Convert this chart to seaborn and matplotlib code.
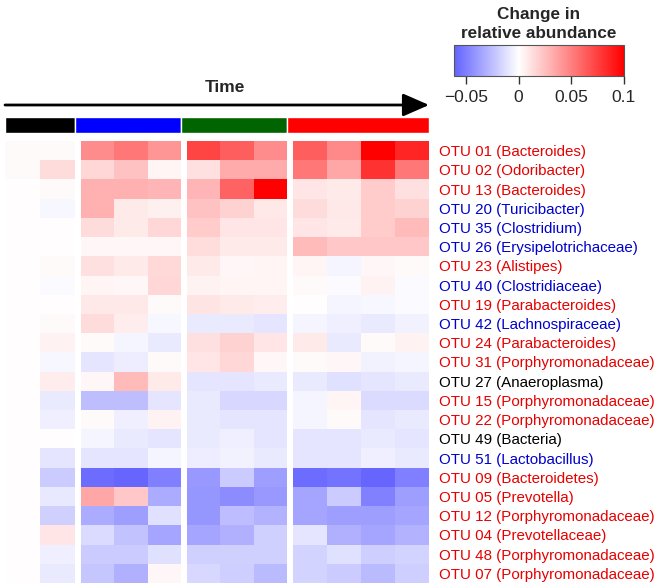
import matplotlib
import matplotlib.pyplot as plt
import numpy as np
import pandas as pd
import seaborn as sns
from matplotlib.colors import LinearSegmentedColormap, Normalize
from matplotlib.cm import ScalarMappable

matplotlib.use("Agg")

# ---- data -------------------------------------------------------------
otu_labels = [
    "OTU 01 (Bacteroides)", "OTU 02 (Odoribacter)", "OTU 13 (Bacteroides)",
    "OTU 20 (Turicibacter)", "OTU 35 (Clostridium)", "OTU 26 (Erysipelotrichaceae)",
    "OTU 23 (Alistipes)", "OTU 40 (Clostridiaceae)", "OTU 19 (Parabacteroides)",
    "OTU 42 (Lachnospiraceae)", "OTU 24 (Parabacteroides)", "OTU 31 (Porphyromonadaceae)",
    "OTU 27 (Anaeroplasma)", "OTU 15 (Porphyromonadaceae)", "OTU 22 (Porphyromonadaceae)",
    "OTU 49 (Bacteria)", "OTU 51 (Lactobacillus)", "OTU 09 (Bacteroidetes)",
    "OTU 05 (Prevotella)", "OTU 12 (Porphyromonadaceae)", "OTU 04 (Prevotellaceae)",
    "OTU 48 (Porphyromonadaceae)", "OTU 07 (Porphyromonadaceae)",
]
label_colors = [
    "red", "red", "red", "blue", "blue", "blue", "red", "blue", "red", "blue",
    "red", "red", "black", "red", "red", "black", "blue", "red", "red", "red",
    "red", "red", "red",
]

group_names = ["baseline", "period 1", "period 2", "period 3"]
group_colors = ["#000000", "#0000ff", "#006400", "#ff0000"]

# black group (2 samples)
baseline = [
    [0.002, 0.002], [0.002, 0.014], [0.001, 0.002], [0.001, -0.003],
    [0.001, 0.001], [0.001, 0.001], [0.001, 0.002], [0.001, -0.002],
    [0.001, 0.001], [0.001, 0.002], [0.001, 0.005], [0.001, -0.003],
    [0.001, 0.007], [0.001, -0.008], [0.001, -0.006], [0.001, 0.001],
    [0.001, -0.010], [0.001, -0.020], [0.001, -0.009], [0.001, -0.018],
    [0.001, 0.010], [0.001, -0.006], [0.001, -0.008],
]
# blue group (3 samples)
period1 = [
    [0.045, 0.053, 0.041], [0.016, 0.024, 0.004], [0.031, 0.031, 0.029],
    [0.031, 0.008, 0.006], [0.014, 0.008, 0.016], [0.003, 0.003, 0.003],
    [0.012, 0.008, 0.015], [0.004, 0.003, 0.016], [0.009, 0.009, 0.002],
    [0.014, 0.007, -0.003], [0.002, -0.004, -0.008], [-0.010, -0.007, 0.002],
    [0.003, 0.027, 0.008], [-0.025, -0.025, -0.010], [0.002, -0.006, 0.005],
    [-0.004, -0.008, -0.010], [-0.010, -0.010, -0.004], [-0.057, -0.060, -0.050],
    [0.035, 0.022, -0.033], [-0.033, -0.038, -0.012], [-0.014, -0.024, -0.035],
    [-0.020, -0.020, -0.012], [-0.022, -0.031, 0.003],
]
# green group (3 samples)
period2 = [
    [0.073, 0.063, 0.045], [0.012, 0.033, 0.033], [0.029, 0.061, 0.100],
    [0.024, 0.018, 0.009], [0.020, 0.010, 0.010], [0.013, 0.008, 0.008],
    [0.008, 0.003, 0.004], [0.005, 0.004, 0.004], [0.011, 0.008, 0.007],
    [-0.008, -0.008, -0.010], [0.012, 0.018, 0.010], [0.010, 0.016, 0.003],
    [-0.010, -0.010, -0.008], [-0.008, -0.016, -0.016], [-0.008, -0.010, -0.010],
    [-0.008, -0.006, -0.010], [-0.007, -0.005, -0.008], [-0.040, -0.020, -0.038],
    [-0.041, -0.045, -0.040], [-0.041, -0.026, -0.030], [-0.035, -0.031, -0.018],
    [-0.018, -0.018, -0.018], [-0.016, -0.019, -0.027],
]
# red group (4 samples)
period3 = [
    [0.063, 0.047, 0.100, 0.085], [0.053, 0.035, 0.080, 0.053],
    [0.010, 0.008, 0.020, 0.012], [0.014, 0.009, 0.020, 0.018],
    [0.010, 0.008, 0.020, 0.027], [0.027, 0.022, 0.022, 0.022],
    [0.004, -0.004, 0.003, 0.002], [0.002, -0.002, 0.005, -0.002],
    [0.001, -0.004, -0.003, -0.002], [-0.004, -0.006, -0.008, -0.005],
    [0.008, -0.008, 0.002, 0.005], [0.002, 0.003, -0.005, -0.004],
    [-0.008, -0.012, -0.010, -0.008], [-0.004, 0.004, -0.014, -0.014],
    [-0.004, 0.002, -0.010, -0.008], [-0.010, -0.010, -0.008, -0.010],
    [-0.010, -0.010, -0.006, -0.008], [-0.057, -0.055, -0.060, -0.050],
    [-0.035, -0.020, -0.049, -0.038], [-0.035, -0.038, -0.038, -0.035],
    [-0.010, -0.031, -0.035, -0.030], [-0.017, -0.012, -0.019, -0.017],
    [-0.017, -0.020, -0.027, -0.019],
]

colorbar_ticks = [-0.05, 0, 0.05, 0.1]
colorbar_ticklabels = ["\u22120.05", "0", "0.05", "0.1"]

# ---- layout (pixels) --------------------------------------------------
W, H = 660, 586
VMIN, VMAX = -0.0614, 0.1
HEAT_TOP, HEAT_BOTTOM = 141, 583
GROUP_X = [(5, 75), (81, 181), (187, 287), (293, 429)]


def fig_rect(x0, y0, x1, y1):
    return [x0 / W, 1 - y1 / H, (x1 - x0) / W, (y1 - y0) / H]


sns.set_theme(style="white")
plt.rcParams["font.family"] = ["Liberation Sans", "DejaVu Sans"]

white_pos = -VMIN / (VMAX - VMIN)
blue_end = 1 + VMIN / 0.1
cmap = LinearSegmentedColormap.from_list(
    "change",
    [(0, (blue_end, blue_end, 1.0)), (white_pos, (1, 1, 1)), (1, (1, 0, 0))],
)
norm = Normalize(vmin=VMIN, vmax=VMAX)

fig = plt.figure(figsize=(W / 100, H / 100), dpi=100)

groups = [baseline, period1, period2, period3]
for i, (vals, (x0, x1)) in enumerate(zip(groups, GROUP_X)):
    ax = fig.add_axes(fig_rect(x0, HEAT_TOP, x1, HEAT_BOTTOM))
    df = pd.DataFrame(np.array(vals), index=otu_labels)
    sns.heatmap(df, ax=ax, cmap=cmap, vmin=VMIN, vmax=VMAX, cbar=False,
                xticklabels=False, yticklabels=(i == len(groups) - 1))
    if i == len(groups) - 1:
        ax.yaxis.tick_right()
        ax.tick_params(axis="y", length=0, pad=7, labelsize=10.9, labelrotation=0)
        for lbl, col in zip(ax.get_yticklabels(), label_colors):
            lbl.set_color({"red": "#e60000", "blue": "#0000cc", "black": "black"}[col])
    ax.set_xlabel("")
    ax.set_ylabel("")

# overlay for time arrow and group strip
over = fig.add_axes([0, 0, 1, 1])
over.set_xlim(0, W)
over.set_ylim(H, 0)
over.axis("off")
over.annotate("", xy=(429, 105), xytext=(5, 105),
              arrowprops=dict(arrowstyle="-|>,head_length=0.8,head_width=0.35",
                              lw=2, color="black", mutation_scale=20,
                              shrinkA=0, shrinkB=0))
over.text(225, 88, "Time", ha="center", va="center", fontsize=12.5, fontweight="bold")

strip_edges = [GROUP_X[0][0]] + [x1 for _, x1 in GROUP_X]
for name, color, left, right in zip(group_names, group_colors, strip_edges[:-1], strip_edges[1:]):
    over.barh(125, right - left, left=left, height=16, color=color, label=name)

# colorbar
cax = fig.add_axes(fig_rect(454, 45, 624, 76))
cb = fig.colorbar(ScalarMappable(norm=norm, cmap=cmap), cax=cax, orientation="horizontal")
cb.set_ticks(colorbar_ticks)
cb.set_ticklabels(colorbar_ticklabels)
cax.tick_params(axis="x", length=6, width=1, color="#333333", labelsize=12.5, pad=4)
cb.outline.set_edgecolor("#555555")
cb.outline.set_linewidth(0.8)
fig.text(539 / W, 1 - 24 / H, "Change in\nrelative abundance", ha="center", va="center",
         fontsize=12.3, fontweight="bold", linespacing=1.38)

fig.savefig("out.png", dpi=100)
